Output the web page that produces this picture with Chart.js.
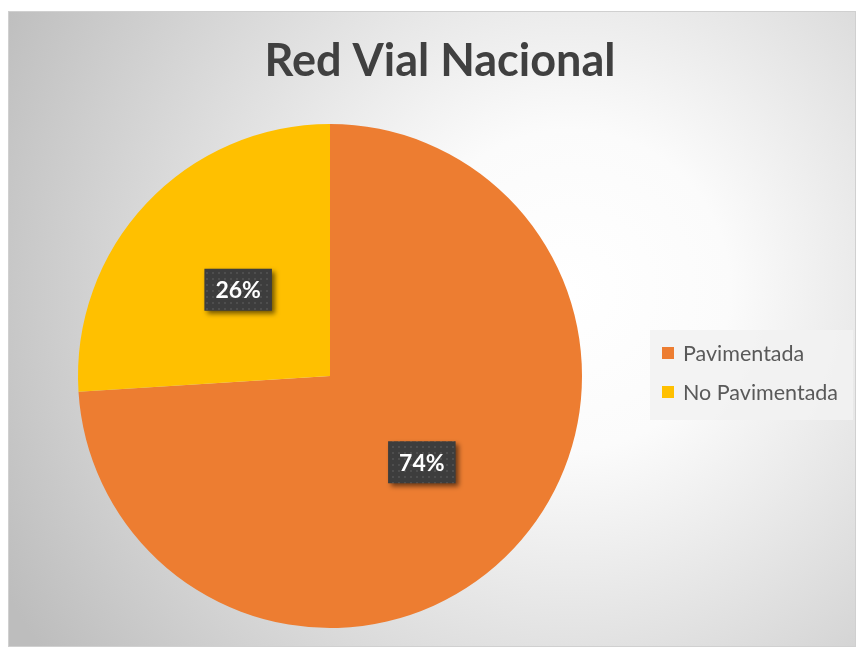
<!DOCTYPE html>
<html>
<head>
<meta charset="utf-8">
<script src="https://cdn.jsdelivr.net/npm/chart.js@4/dist/chart.umd.min.js"></script>
<style>
    body { margin: 0; background: #ffffff; }
    #wrap { position: relative; width: 857px; height: 650px; }
</style>
</head>
<body>
<div id="wrap"><canvas id="redVialChart" width="857" height="650"></canvas></div>
<script>
// Datos de la red vial
const titulo = 'Red Vial Nacional';
const categorias = ['Pavimentada', 'No Pavimentada'];
const porcentajes = [74, 26];
const colores = ['#ED7D31', '#FFC000'];

const FUENTE = 'Lato, "Open Sans", sans-serif';

// Fondo con degradado radial y marco
const fondoPlugin = {
    id: 'fondo',
    beforeDraw(chart) {
        const ctx = chart.ctx;
        ctx.save();
        const g = ctx.createRadialGradient(570, 290, 0, 570, 290, 640);
        g.addColorStop(0, '#ffffff');
        g.addColorStop(0.25, '#fbfbfb');
        g.addColorStop(1, '#bdbdbd');
        ctx.fillStyle = g;
        ctx.fillRect(8, 11, 848, 636);
        ctx.strokeStyle = '#d0d0d0';
        ctx.lineWidth = 1;
        ctx.strokeRect(8.5, 11.5, 847, 635);
        ctx.restore();
    }
};

// Patrón punteado para las etiquetas
function crearPatron(ctx) {
    const c = document.createElement('canvas');
    c.width = 6; c.height = 6;
    const p = c.getContext('2d');
    p.fillStyle = '#3d3d3d';
    p.fillRect(0, 0, 6, 6);
    p.fillStyle = '#4e4e4e';
    p.fillRect(2, 2, 2, 2);
    return ctx.createPattern(c, 'repeat');
}

// Título, leyenda y etiquetas de porcentaje
const textosPlugin = {
    id: 'textos',
    afterDraw(chart) {
        const ctx = chart.ctx;
        ctx.save();

        // título
        ctx.fillStyle = '#404040';
        ctx.font = 'bold 45px ' + FUENTE;
        ctx.textAlign = 'center';
        ctx.textBaseline = 'alphabetic';
        ctx.fillText(titulo, 440, 76);

        // leyenda
        ctx.fillStyle = 'rgba(242,242,242,0.9)';
        ctx.fillRect(650, 330, 203, 90);
        ctx.font = '21.5px ' + FUENTE;
        ctx.textAlign = 'left';
        categorias.forEach((cat, i) => {
            const y = 353 + i * 39;
            ctx.fillStyle = colores[i];
            ctx.fillRect(662, y - 6, 12, 12);
            ctx.fillStyle = '#595959';
            ctx.textBaseline = 'middle';
            ctx.fillText(cat, 683, y + 1);
        });

        // etiquetas de datos
        const meta = chart.getDatasetMeta(0);
        const patron = crearPatron(ctx);
        ctx.font = 'bold 23px ' + FUENTE;
        ctx.textAlign = 'center';
        ctx.textBaseline = 'middle';
        meta.data.forEach((arc, i) => {
            const pos = arc.tooltipPosition();
            const txt = porcentajes[i] + '%';
            const w = ctx.measureText(txt).width + 22;
            const h = 42;
            ctx.save();
            ctx.shadowColor = 'rgba(0,0,0,0.55)';
            ctx.shadowBlur = 5;
            ctx.shadowOffsetX = 3;
            ctx.shadowOffsetY = 3;
            ctx.fillStyle = patron;
            ctx.fillRect(pos.x - w / 2, pos.y - h / 2, w, h);
            ctx.restore();
            ctx.fillStyle = '#ffffff';
            ctx.fillText(txt, pos.x, pos.y + 1);
        });
        ctx.restore();
    }
};

const ctx = document.getElementById('redVialChart').getContext('2d');
const redVialChart = new Chart(ctx, {
    type: 'pie',
    data: {
        labels: categorias,
        datasets: [{
            data: porcentajes,
            backgroundColor: colores,
            borderWidth: 0
        }]
    },
    options: {
        responsive: false,
        animation: false,
        layout: {
            padding: { left: 78, right: 275, top: 124, bottom: 22 }
        },
        plugins: {
            legend: { display: false },
            title: { display: false },
            tooltip: { enabled: false }
        }
    },
    plugins: [fondoPlugin, textosPlugin]
});
</script>
</body>
</html>
